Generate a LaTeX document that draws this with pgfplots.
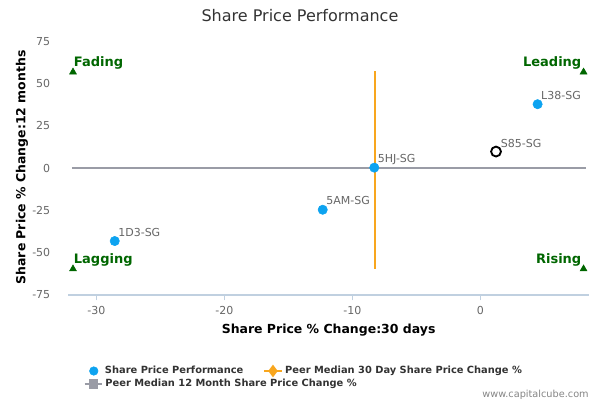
\documentclass[border=0pt]{standalone}
\usepackage{fontspec}
\setmainfont{DejaVu Sans}
\usepackage{pgfplots}
\pgfplotsset{compat=1.18}

\definecolor{ptblue}{RGB}{13,163,240}
\definecolor{medorange}{RGB}{248,166,30}
\definecolor{medgray}{RGB}{154,156,166}
\definecolor{cornergreen}{RGB}{0,102,0}
\definecolor{ticktext}{RGB}{102,102,102}
\definecolor{axisline}{RGB}{192,208,224}
\definecolor{titletext}{RGB}{51,51,51}

% company points: x = 30 day change, y = 12 month change
\pgfplotstableread{
x      y      name
-28.56 -43.1  1D3-SG
-12.31 -24.6  5AM-SG
-8.28   0.3   5HJ-SG
4.48   37.8   L38-SG
}\peers

\pgfplotsset{
  legend image code/.code={
    \path[draw=none,fill=none] (0pt,0pt) -- (12.8pt,0pt);
    \draw[mark repeat=2,mark phase=2,#1]
      plot coordinates {(0pt,0pt) (6.4pt,0pt) (12.8pt,0pt)};
  },
}

\begin{document}
\begin{tikzpicture}
\useasboundingbox (0,0) rectangle (450pt,300pt);
\begin{axis}[
  at={(51.2pt,78.75pt)}, anchor=south west,
  scale only axis,
  width=390.5pt, height=190.3pt,
  xmin=-32.19, xmax=8.49,
  ymin=-75, ymax=75,
  axis x line=bottom, axis y line=left,
  axis line style={-},
  x axis line style={draw=axisline, line width=0.75pt},
  y axis line style={draw=none},
  xtick={-30,-20,-10,0},
  ytick={-75,-50,-25,0,25,50,75},
  tick align=outside,
  major tick length=4pt,
  xtick style={draw=axisline, line width=0.75pt},
  ytick style={draw=none},
  ticklabel style={font=\fontsize{8.25}{10}\selectfont, text=ticktext},
  /pgf/number format/assume math mode=true,
  xticklabel style={yshift=-1pt},
  yticklabel style={xshift=-6pt},
  title={Share Price Performance},
  title style={at={(axis description cs:0.445,1.068)}, anchor=center, yshift=0pt,
    font=\fontsize{12}{14}\selectfont, text=titletext},
  xlabel={Share Price \% Change:30 days},
  xlabel style={at={(axis description cs:0.5,-0.140)}, anchor=center,
    font=\bfseries\fontsize{9.35}{11}\selectfont},
  ylabel={Share Price \% Change:12 months},
  ylabel style={at={(axis description cs:-0.0889,0.5026)}, anchor=center,
    rotate=0, font=\bfseries\fontsize{9.35}{11}\selectfont},
  clip=false,
  legend columns=2,
  legend style={at={(axis description cs:0.0321,-0.2996)}, anchor=west,
    draw=none, fill=none, inner sep=0pt,
    font=\bfseries\fontsize{7.4}{9}\selectfont, text=titletext,
    /tikz/every even column/.append style={column sep=13pt}},
]
% legend entries
\addlegendimage{only marks, mark=*, mark size=3.2pt, ptblue}
\addlegendentry{Share Price Performance}
\addlegendimage{medorange, line width=1.5pt, mark=diamond*, mark size=3.5pt}
\addlegendentry{Peer Median 30 Day Share Price Change \%}

% peers
\addplot[only marks, mark=*, mark size=3.5pt, color=ptblue,
  nodes near coords, point meta=explicit symbolic,
  every node near coord/.style={anchor=base west, xshift=2.5pt, yshift=3.6pt,
    font=\fontsize{8.25}{10}\selectfont, text=ticktext, inner sep=0pt}]
  table[meta=name] {\peers};

% the company itself
\addplot[only marks, mark=o, mark size=3.7pt, line width=1.4pt, color=black,
  nodes near coords, point meta=explicit symbolic,
  every node near coord/.style={anchor=base west, xshift=3pt, yshift=3.4pt,
    font=\fontsize{8.25}{10}\selectfont, text=ticktext, inner sep=0pt}]
  table[meta=name] {
x    y   name
1.23 9.8 S85-SG
};

% peer median 12 month change
\addplot[medgray, line width=1.5pt, forget plot] coordinates {(-31.9,0.3) (8.23,0.3)};
% peer median 30 day change
\addplot[medorange, line width=1.5pt, forget plot] coordinates {(-8.25,-59.6) (-8.25,57.2)};

% quadrant markers
\addplot[only marks, mark=triangle*, mark size=3pt, color=cornergreen,
  nodes near coords, point meta=explicit symbolic,
  every node near coord/.style={anchor=base west, xshift=0.5pt, yshift=4.2pt,
    font=\bfseries\fontsize{9.75}{11}\selectfont, text=cornergreen, inner sep=0pt}]
  table[meta=name] {
x      y     name
-31.82 56.8  Fading
-31.82 -59.6 Lagging
};
\addplot[only marks, mark=triangle*, mark size=3pt, color=cornergreen,
  nodes near coords, point meta=explicit symbolic,
  every node near coord/.style={anchor=base east, xshift=-1.5pt, yshift=4.2pt,
    font=\bfseries\fontsize{9.75}{11}\selectfont, text=cornergreen, inner sep=0pt}]
  table[meta=name] {
x     y     name
8.07  56.8  Leading
8.07  -59.6 Rising
};

\node[anchor=east, inner sep=0pt, font=\fontsize{7.3}{8}\selectfont, text=ticktext!80]
  at (axis description cs:1.0,-0.394) {www.capitalcube.com};
\end{axis}

% second legend row
\begin{axis}[
  at={(51.2pt,78.75pt)}, anchor=south west,
  scale only axis,
  width=390.5pt, height=190.3pt,
  xmin=0, xmax=1, ymin=0, ymax=1,
  hide axis,
  legend style={at={(axis description cs:0.0292,-0.3508)}, anchor=west,
    draw=none, fill=none, inner sep=0pt,
    font=\bfseries\fontsize{7.4}{9}\selectfont, text=titletext},
]
\addlegendimage{medgray, line width=1.5pt, mark=square*, mark size=2.8pt}
\addlegendentry{Peer Median 12 Month Share Price Change \%}
\end{axis}
\end{tikzpicture}
\end{document}
